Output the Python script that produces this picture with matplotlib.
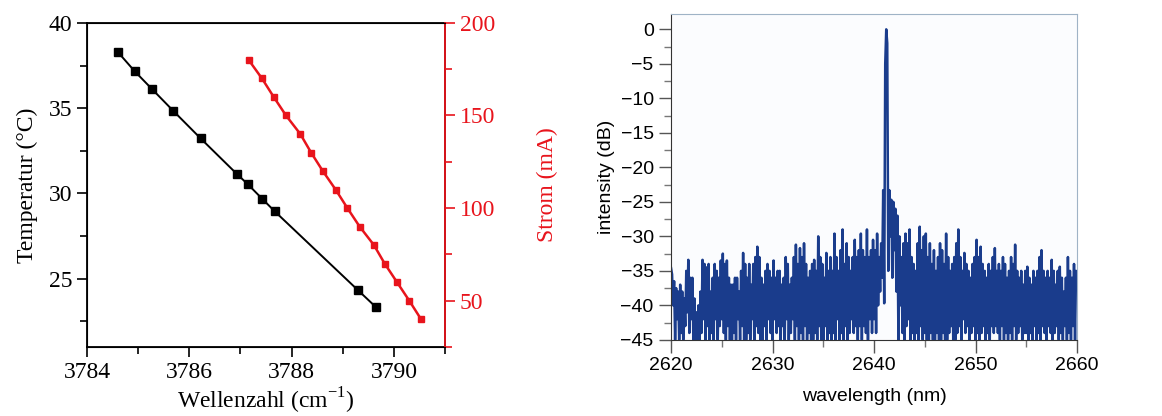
import numpy as np
import matplotlib.pyplot as plt
from matplotlib.ticker import MultipleLocator

# left panel: tuning curves
temp_wn = [3784.60, 3784.93, 3785.27, 3785.69, 3786.22, 3786.93, 3787.14,
           3787.43, 3787.67, 3789.30, 3789.65]
temp_c = [38.30, 37.17, 36.12, 34.83, 33.23, 31.14, 30.55, 29.67, 28.95, 24.32, 23.33]

curr_wn = [3787.16, 3787.42, 3787.65, 3787.89, 3788.17, 3788.38, 3788.61, 3788.86,
           3789.09, 3789.33, 3789.61, 3789.82, 3790.06, 3790.30, 3790.53]
curr_ma = [180, 170, 160, 150, 140, 130, 120, 110, 100, 90, 80, 70, 60, 50, 40]

# right panel: emission spectrum, one row per nm (0.1 nm steps)
spec_db = [
    -34.6, -35.5, -40, -36.5, -45, -37.5, -42, -38, -45, -37,      # 2620
    -44, -38, -45, -39, -43, -35, -41, -33.4, -44, -36,            # 2621
    -42, -36, -45, -39, -45, -41, -45, -40, -45, -38,              # 2622
    -44, -33.4, -42, -34, -45, -34.5, -43, -34, -45, -38,          # 2623
    -44, -36, -45, -34, -42, -35, -45, -36, -43, -33.5,            # 2624
    -42, -32.5, -44, -34, -45, -33.5, -43, -36, -45, -37,          # 2625
    -45, -37, -44, -36, -45, -36, -42, -38, -45, -35,              # 2626
    -43, -32.4, -45, -34, -45, -36, -44, -34, -45, -37,            # 2627
    -42, -34, -45, -33, -43, -31.5, -44, -33, -45, -36,            # 2628
    -45, -37, -43, -35, -45, -34, -42, -35, -44, -36,              # 2629
    -45, -33.5, -42, -36, -44, -35, -43, -35, -45, -37,            # 2630
    -43, -36, -45, -33, -42, -34, -45, -37, -44, -36,              # 2631
    -42, -33, -45, -31.2, -43, -34, -45, -31.7, -44, -33,          # 2632
    -45, -31, -43, -34, -45, -36, -44, -35, -45, -34,              # 2633
    -45, -33.4, -44, -35, -45, -30, -43, -33, -45, -34,            # 2634
    -45, -36, -43, -32.4, -45, -35, -44, -33, -45, -35,            # 2635
    -44, -29.6, -45, -33, -42, -35, -45, -32, -44, -29,            # 2636
    -45, -34, -43, -31, -45, -33, -44, -35, -42, -33,              # 2637
    -44, -30.5, -43, -33, -45, -32, -43, -29.6, -45, -32,          # 2638
    -43, -33, -44, -29, -45, -33, -42, -32, -44, -30.5,            # 2639
    -42, -32, -44, -29.6, -40, -33, -38, -31, -36, -23.3,          # 2640
    -39.7, -5, 0, -2, -35, -23.3, -30, -24.7, -36, -25,            # 2641
    -32, -26, -38, -27, -45, -30, -40, -33, -44, -31,              # 2642
    -45, -29.6, -43, -31, -42, -29, -45, -33, -44, -34,            # 2643
    -45, -35, -44, -31, -45, -28.6, -43, -32, -45, -30,            # 2644
    -44, -29.6, -45, -33, -45, -31, -44, -34, -45, -32,            # 2645
    -45, -35, -44, -33, -45, -31, -45, -32, -44, -34,              # 2646
    -45, -29.6, -45, -33, -44, -35, -43, -34, -45, -33,            # 2647
    -45, -31, -44, -29, -43, -33, -45, -35, -42, -32.4,            # 2648
    -44, -34, -43, -35, -45, -36, -44, -34, -43, -33,              # 2649
    -45, -30.5, -44, -33, -45, -31.5, -44, -34, -43, -35,          # 2650
    -45, -36, -44, -34, -45, -35, -43, -33, -44, -31.7,            # 2651
    -43, -35, -44, -34, -45, -35, -43, -33, -45, -34,              # 2652
    -44, -36, -45, -35, -44, -33, -45, -34, -43, -31.2,            # 2653
    -45, -35, -44, -36, -43, -35, -45, -37, -44, -35,              # 2654
    -44, -34.4, -45, -36, -44, -37, -45, -35, -43, -36,            # 2655
    -45, -35, -44, -33, -45, -32, -43, -35, -44, -36,              # 2656
    -45, -35, -43, -36, -44, -33.4, -45, -35, -44, -37,            # 2657
    -43, -35, -45, -34.4, -44, -36, -45, -38, -43, -36,            # 2658
    -45, -33, -44, -35, -45, -36, -43, -34, -45, -35,              # 2659
    -37,                                                           # 2660
]
spec_nm = 2620 + 0.1 * np.arange(len(spec_db))

fig = plt.figure(figsize=(11.62, 4.16), dpi=100)

#Left panel
serif = "Liberation Serif"
plt.rcParams["mathtext.fontset"] = "custom"
plt.rcParams["mathtext.rm"] = serif

ax1 = fig.add_axes([0.0749, 0.166, 0.3081, 0.779])
ax1.plot(temp_wn, temp_c, color="black", lw=1.4, marker="s", ms=5.5, zorder=3)
ax1.set_xlim(3784, 3791)
ax1.set_ylim(21, 40)
ax1.xaxis.set_major_locator(MultipleLocator(2))
ax1.xaxis.set_minor_locator(MultipleLocator(1))
ax1.yaxis.set_major_locator(MultipleLocator(5))
ax1.yaxis.set_minor_locator(MultipleLocator(2.5))
ax1.tick_params(which="major", direction="out", length=7, width=1.2, labelsize=17)
ax1.tick_params(which="minor", direction="out", length=5, width=1.2)
for lab in ax1.get_xticklabels() + ax1.get_yticklabels():
    lab.set_fontfamily(serif)
ax1.set_xlabel("Wellenzahl (cm$^{-1}$)", fontfamily=serif, fontsize=17, labelpad=2)
ax1.set_ylabel("Temperatur (°C)", fontfamily=serif, fontsize=17, labelpad=8)
for s in ax1.spines.values():
    s.set_linewidth(1.3)

ax2 = ax1.twinx()
red = "#e8141c"
ax2.plot(curr_wn, curr_ma, color=red, lw=1.8, marker="s", ms=4.8, zorder=3)
ax2.set_ylim(25, 200)
ax2.yaxis.set_major_locator(MultipleLocator(50))
ax2.yaxis.set_minor_locator(MultipleLocator(25))
ax2.tick_params(axis="y", which="major", direction="out", length=7, width=1.2,
                labelsize=17, colors=red)
ax2.tick_params(axis="y", which="minor", direction="out", length=5, width=1.2, colors=red)
for lab in ax2.get_yticklabels():
    lab.set_fontfamily(serif)
ax2.spines["right"].set_color(red)
ax2.spines["right"].set_linewidth(1.3)
ax2.set_ylabel("Strom (mA)", fontfamily=serif, fontsize=17, color=red, labelpad=30)

#Right panel
ax3 = fig.add_axes([0.5775, 0.183, 0.3494, 0.783])
ax3.set_facecolor("#fbfcfe")
ax3.plot(spec_nm, spec_db, color="#1a3c8c", lw=1.8)
ax3.set_xlim(2620, 2660)
ax3.set_ylim(-45, 2.2)
ax3.xaxis.set_major_locator(MultipleLocator(10))
ax3.xaxis.set_minor_locator(MultipleLocator(5))
ax3.yaxis.set_major_locator(MultipleLocator(5))
ax3.yaxis.set_minor_locator(MultipleLocator(2.5))
ax3.tick_params(which="major", direction="out", length=9, width=1.0, labelsize=14,
                color="#555555")
ax3.tick_params(which="minor", direction="out", length=5, width=1.0, color="#777777")
ax3.set_xlabel("wavelength (nm)", fontfamily="Liberation Sans", fontsize=14, labelpad=10)
ax3.set_ylabel("intensity (dB)", fontfamily="Liberation Sans", fontsize=14, labelpad=4)
for lab in ax3.get_xticklabels() + ax3.get_yticklabels():
    lab.set_fontfamily("Liberation Sans")
ax3.spines["left"].set_color("#333333")
ax3.spines["bottom"].set_color("#333333")
ax3.spines["top"].set_color("#9fb3c6")
ax3.spines["right"].set_color("#9fb3c6")

fig.savefig("out.png", dpi=100)
